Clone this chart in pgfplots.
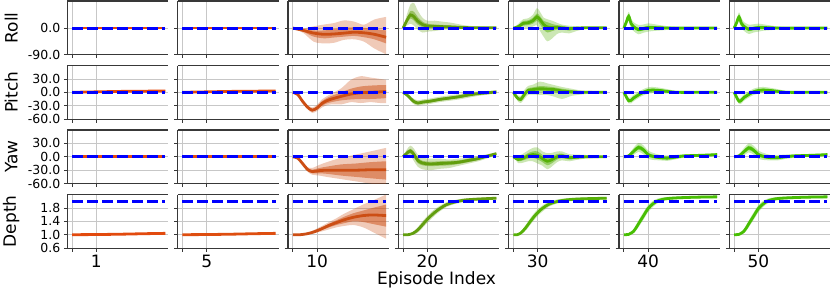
\documentclass[border=0pt]{standalone}
\usepackage{fontspec}
\setmainfont{DejaVu Sans}
\usepackage{pgfplots}
\usepackage{pgfplotstable}
\pgfplotsset{compat=1.18}
\usepgfplotslibrary{fillbetween}

\definecolor{cA}{RGB}{226,74,14}
\definecolor{cB}{RGB}{222,78,16}
\definecolor{cC}{RGB}{204,78,20}
\definecolor{cD}{RGB}{98,158,14}
\definecolor{cE}{RGB}{86,176,8}
\definecolor{cF}{RGB}{72,190,4}

% ---------- flat panels (episodes 1 and 5) ----------
\pgfplotstableread{
t m il ih ol oh
0 0 -0.5 0.5 -1 1
20 0 -0.5 0.5 -1 1
38.5 0 -0.5 0.5 -1 1
}\RollA
\pgfplotstableread{
t m il ih ol oh
0 0 -0.3 0.3 -0.6 0.6
10 1 0.6 1.4 0.3 1.7
20 2 1.6 2.4 1.3 2.7
30 2.5 2.1 2.9 1.8 3.2
38.5 3 2.6 3.4 2.3 3.7
}\PitchA
\pgfplotstableread{
t m il ih ol oh
0 0 -0.3 0.3 -0.6 0.6
20 0 -0.3 0.3 -0.6 0.6
38.5 0 -0.3 0.3 -0.6 0.6
}\YawA
\pgfplotstableread{
t m il ih ol oh
0 1.0 0.998 1.002 0.996 1.004
10 1.005 1.003 1.007 1.001 1.009
20 1.015 1.013 1.017 1.011 1.019
30 1.03 1.028 1.032 1.026 1.034
38.5 1.04 1.038 1.042 1.036 1.044
}\DepthA

% ---------- episode 10 ----------
\pgfplotstableread{
t m il ih ol oh
0 0 0 0 0 0
4.4 -8 -12.7 -3.5 -17 -1
8.6 -17 -29 -8 -46 6
12.8 -21 -34.6 -8 -52 12
16.9 -20 -32 -3.5 -50 17
21.1 -17 -29 1 -40 26
25.3 -14 -26.5 3 -38 22
29.4 -16 -31 1 -46 11.5
33.6 -21 -38 -3.5 -69 29
38.5 -31 -52 -8 -89 38
}\RollC
\pgfplotstableread{
t m il ih ol oh
0 0 0 0 0 0
2 -5 -6 -4 -7 -3
4 -20 -22 -18 -23 -17
6 -33 -35.5 -30.5 -37.5 -28.5
8 -40 -43 -37 -46 -34
10 -35 -38.5 -31.5 -42 -28
12 -25 -30 -20 -34 -16
14 -19 -25 -13 -29 -9
16 -15 -22 -8 -27 -3
20 -9 -18 0 -27 9
24 -4 -16 8 -22 28
28 -1 -15 13 -24 36
32 0 -15 15 -22 33
36 1 -14 16 -24 30
38.5 2 -13 16 -24 28
}\PitchC
\pgfplotstableread{
t m il ih ol oh
0 0 0 0 0 0
2 -3 -4 -2 -5 -1
4 -15 -17 -13 -19 -11
6 -28 -31 -25 -33 -23
8 -33 -37 -29 -40 -25
11 -31 -37 -25 -42 -18
14 -30 -38 -22 -45 -12
20 -30 -42 -17 -50 -2
26 -30 -45 -15 -55 5
32 -29 -48 -12 -60 12
38.5 -29 -51 -10 -65 20
}\YawC
\pgfplotstableread{
t m il ih ol oh
0 1.0 1.0 1.0 1.0 1.0
3 1.0 0.995 1.005 0.99 1.01
6 1.03 1.02 1.04 1.01 1.05
9 1.09 1.07 1.12 1.05 1.15
12 1.18 1.14 1.22 1.10 1.26
15 1.28 1.22 1.33 1.16 1.38
18 1.36 1.29 1.43 1.22 1.49
21 1.44 1.34 1.53 1.26 1.62
25 1.52 1.40 1.64 1.29 1.76
29 1.57 1.38 1.72 1.22 1.90
33 1.59 1.32 1.80 1.08 2.02
38.5 1.57 1.24 1.90 0.88 2.2
}\DepthC

% ---------- episode 20 ----------
\pgfplotstableread{
t m il ih ol oh
0 0 0 0 0 0
1.5 25 18 32 8 45
3 45 33 58 15 80
4.5 38 25 55 8 85
6 24 12 38 -5 60
8 12 3 22 -15 35
10 7 0 15 -12 25
13 6 1 12 -10 25
16 5 0 11 -6 22
20 4 0 8 -5 18
25 2 0 5 -3 10
30 1 -1 3 -2 6
38.5 1 0 2 -1 3
}\RollD
\pgfplotstableread{
t m il ih ol oh
0 0 0 0 0 0
2 -8 -10 -6 -12 -4
4 -19 -22 -16 -25 -13
6 -24 -27 -21 -30 -18
8 -22 -25 -19 -28 -16
11 -20 -23 -17 -26 -14
15 -16 -19 -13 -22 -10
19 -13 -16 -10 -19 -7
23 -10 -13 -7 -16 -4
27 -6 -9 -3 -12 0
31 -3 -5 -1 -8 2
35 -1 -3 1 -5 3
38.5 1 -1 3 -2 4
}\PitchD
\pgfplotstableread{
t m il ih ol oh
0 0 0 0 0 0
1.5 8 4 12 0 16
3 13 8 18 2 25
4.5 5 -1 11 -10 18
6 -8 -14 -2 -22 5
8 -14 -19 -9 -28 -2
11 -16 -21 -11 -30 -4
15 -15 -20 -10 -27 -4
19 -14 -19 -9 -25 -6
23 -12 -16 -8 -20 -4
27 -8 -12 -4 -15 -2
31 -4 -7 -1 -10 2
35 2 0 4 -3 6
38.5 7 5 9 4 10
}\YawD
\pgfplotstableread{
t m il ih ol oh
0 1.0 1.0 1.0 1.0 1.0
2 1.0 0.995 1.005 0.99 1.01
4 1.04 1.02 1.06 1.0 1.08
6 1.14 1.11 1.17 1.06 1.22
8 1.3 1.26 1.34 1.2 1.4
10 1.46 1.42 1.50 1.36 1.56
12 1.6 1.56 1.64 1.5 1.7
14 1.72 1.68 1.76 1.63 1.81
16 1.82 1.78 1.85 1.74 1.9
18 1.9 1.87 1.93 1.83 1.97
21 1.97 1.94 2.0 1.91 2.03
25 2.03 2.0 2.05 1.97 2.08
30 2.06 2.04 2.08 2.01 2.1
38.5 2.09 2.07 2.11 2.05 2.13
}\DepthD

% ---------- episode 30 ----------
\pgfplotstableread{
t m il ih ol oh
0 0 0 0 0 0
2 5 1 9 -3 14
4 16 8 24 2 30
6 18 10 26 0 33
8 25 15 35 5 45
9.7 38 25 50 10 68
11 28 12 40 -10 55
12.5 12 -5 24 -30 35
14 4 -15 20 -45 30
16 2 -10 14 -35 25
18 3 -5 10 -20 18
20 1 -5 8 -15 12
23 -2 -8 4 -18 8
26 0 -4 4 -10 6
30 1 -1 3 -3 4
38.5 1 0 2 -1 3
}\RollE
\pgfplotstableread{
t m il ih ol oh
0 0 0 0 0 0
1.5 -12 -15 -9 -18 -6
3 -16 -20 -12 -24 -8
4.5 -5 -10 0 -15 5
6 4 -1 9 -6 14
8 6 1 11 -5 17
11 8 2 14 -6 24
14 7 1 13 -6 20
17 6 0 11 -10 16
20 3 -3 8 -15 12
24 1 -3 5 -8 8
28 0 -2 2 -5 4
32 0 -1 1 -3 3
38.5 0 -1 1 -2 2
}\PitchE
\pgfplotstableread{
t m il ih ol oh
0 0 0 0 0 0
2 -6 -10 -2 -14 2
4 -3 -8 2 -13 7
6 2 -4 8 -10 14
8 5 -2 12 -10 20
10 3 -6 12 -15 21
12 -4 -12 4 -20 12
14 -10 -19 -1 -28 8
16 -6 -14 2 -21 9
18 0 -6 6 -12 12
20 2 -3 7 -8 12
23 -2 -6 2 -10 6
26 -1 -4 2 -7 5
30 0 -2 2 -4 4
38.5 0 -1 1 -2 2
}\YawE
\pgfplotstableread{
t m il ih ol oh
0 1.0 1.0 1.0 1.0 1.0
1.5 1.0 0.995 1.005 0.99 1.01
3 1.05 1.03 1.07 1.01 1.09
5 1.2 1.16 1.24 1.12 1.28
7 1.4 1.35 1.45 1.3 1.5
9 1.58 1.53 1.63 1.48 1.68
11 1.73 1.68 1.77 1.63 1.82
13 1.84 1.8 1.88 1.75 1.92
15 1.92 1.89 1.95 1.85 1.99
18 1.99 1.96 2.02 1.93 2.05
22 2.04 2.02 2.06 1.99 2.09
28 2.07 2.05 2.09 2.03 2.11
38.5 2.09 2.07 2.11 2.05 2.13
}\DepthE

% ---------- episode 40 ----------
\pgfplotstableread{
t m il ih ol oh
0 0 0 0 0 0
1 20 15 25 10 30
2 40 32 48 25 55
3 15 7 23 -3 33
4 5 -1 11 -10 20
6 -5 -11 1 -21 11
8 -2 -8 4 -16 12
10 2 -4 8 -12 16
12 2 -3 7 -10 14
15 1 -3 5 -8 10
20 0 -2 2 -5 5
30 0 -1 1 -2 2
38.5 0 -1 1 -1 1
}\RollF
\pgfplotstableread{
t m il ih ol oh
0 0 0 0 0 0
1 -10 -12 -8 -14 -6
2 -19 -22 -16 -25 -13
3 -18 -21 -15 -25 -11
4 -13 -16 -10 -20 -6
6 -6 -9 -3 -13 1
8 0 -3 3 -7 7
10 4 1 7 -3 11
12 5 2 8 -2 12
15 4 1 7 -2 10
18 2 0 4 -3 7
22 0 -1 1 -3 3
30 0 -1 1 -2 2
38.5 0 -1 1 -1 1
}\PitchF
\pgfplotstableread{
t m il ih ol oh
0 0 0 0 0 0
2 2 0 4 -2 6
4 12 8 16 4 20
6 21 16 26 11 31
8 16 11 21 6 26
10 5 1 9 -4 14
12 1 -3 5 -7 9
15 -2 -5 1 -8 4
18 -3 -6 0 -9 3
21 -1 -4 2 -6 4
25 2 0 4 -2 6
30 3 1 5 0 6
35 4 2 6 1 7
38.5 5 3 7 2 8
}\YawF
\pgfplotstableread{
t m il ih ol oh
0 1.0 1.0 1.0 1.0 1.0
2 1.01 1.0 1.02 0.99 1.03
4 1.1 1.07 1.13 1.04 1.16
5 1.2 1.16 1.24 1.12 1.28
6 1.32 1.27 1.37 1.22 1.42
8 1.55 1.5 1.6 1.44 1.66
10 1.78 1.73 1.83 1.67 1.88
12 1.92 1.88 1.96 1.83 2.01
14 2.01 1.98 2.04 1.94 2.08
17 2.07 2.05 2.09 2.02 2.12
22 2.1 2.08 2.12 2.06 2.14
30 2.12 2.1 2.14 2.08 2.16
38.5 2.13 2.11 2.15 2.09 2.17
}\DepthF

% ---------- episode 50 ----------
\pgfplotstableread{
t m il ih ol oh
0 0 0 0 0 0
1 18 13 23 8 28
2 38 30 46 23 53
3 16 8 24 -2 34
4 6 0 12 -9 21
6 -4 -10 2 -20 12
8 -1 -7 5 -15 13
10 2 -4 8 -12 15
12 2 -3 7 -9 13
15 1 -2 4 -7 9
20 0 -2 2 -4 4
30 0 -1 1 -2 2
38.5 0 -1 1 -1 1
}\RollG
\pgfplotstableread{
t m il ih ol oh
0 0 0 0 0 0
1 -11 -13 -9 -15 -7
2 -20 -23 -17 -26 -14
3 -18 -21 -15 -25 -11
4 -12 -15 -9 -19 -5
6 -5 -8 -2 -12 2
8 1 -2 4 -6 8
10 4 1 7 -3 11
12 5 2 8 -2 12
15 4 1 7 -2 10
18 2 0 4 -3 7
22 0 -1 1 -3 3
30 0 -1 1 -2 2
38.5 0 -1 1 -1 1
}\PitchG
\pgfplotstableread{
t m il ih ol oh
0 0 0 0 0 0
2 2 0 4 -2 6
4 11 7 15 3 19
6 20 15 25 10 30
8 15 10 20 5 25
10 5 1 9 -4 14
12 1 -3 5 -7 9
15 -2 -5 1 -8 4
18 -2 -5 1 -8 4
21 0 -3 3 -5 5
25 2 0 4 -2 6
30 3 1 5 0 6
35 4 2 6 1 7
38.5 5 3 7 2 8
}\YawG
\pgfplotstableread{
t m il ih ol oh
0 1.0 1.0 1.0 1.0 1.0
2 1.01 1.0 1.02 0.99 1.03
4 1.1 1.07 1.13 1.04 1.16
5 1.2 1.16 1.24 1.12 1.28
6 1.32 1.27 1.37 1.22 1.42
8 1.55 1.5 1.6 1.44 1.66
10 1.78 1.73 1.83 1.67 1.88
12 1.92 1.88 1.96 1.83 2.01
14 2.01 1.98 2.04 1.94 2.08
17 2.07 2.05 2.09 2.02 2.12
22 2.1 2.08 2.12 2.06 2.14
30 2.12 2.1 2.14 2.08 2.16
38.5 2.13 2.11 2.15 2.09 2.17
}\DepthG

\pgfplotsset{
  base/.style={
    scale only axis, width=101pt, height=53.6pt, anchor=north west,
    xmin=-2, xmax=39.7, xtick={0,10}, xticklabels={}, yticklabels={},
    axis x line*=box, axis y line*=left,
    tick align=outside, major tick length=3.5pt,
    xtick pos=left, ytick pos=left,
    axis line style={black!78, line width=1.1pt},
    major tick style={black!78, line width=0.8pt},
    grid=major, grid style={black!22, line width=0.8pt},
    tick label style={font=\fontsize{12.5}{14}\selectfont},
  },
  lastcol/.style={axis y line*=box, ytick pos=left},
  rollR/.style={ymin=-90, ymax=92, ytick={-90,0}},
  pyR/.style={ymin=-60, ymax=60, ytick={-60,-30,0,30}},
  depR/.style={ymin=0.6, ymax=2.2, ytick={0.6,1.0,1.4,1.8}},
  firstcol/.style={ylabel style={font=\fontsize{17}{20}\selectfont, at={(axis description cs:-0.555,0.5)}, anchor=center}},
  bottomrow/.style={xticklabel style={font=\fontsize{17}{20}\selectfont}},
}

\newcommand{\panel}[2]{%
  \addplot[draw=none, smooth, name path=oL] table[x=t,y=ol]{#1};
  \addplot[draw=none, smooth, name path=oH] table[x=t,y=oh]{#1};
  \addplot[fill=#2, fill opacity=0.3, draw=none] fill between[of=oL and oH];
  \addplot[draw=none, smooth, name path=iL] table[x=t,y=il]{#1};
  \addplot[draw=none, smooth, name path=iH] table[x=t,y=ih]{#1};
  \addplot[fill=#2, fill opacity=0.5, draw=none] fill between[of=iL and iH];
  \addplot[#2, line width=2.8pt, smooth] table[x=t,y=m]{#1};
}
\newcommand{\target}[1]{%
  \addplot[blue, line width=3pt, dash pattern=on 10.5pt off 4.5pt] coordinates {(0,#1) (38.5,#1)};
}
% #1 x, #2 top, #3 options, #4 table, #5 colour, #6 target
\newcommand{\cell}[6]{%
  \begin{axis}[base, at={(#1pt,-#2pt)}, #3]
    \panel{#4}{#5}
    \target{#6}
  \end{axis}}

\begin{document}
\begin{tikzpicture}
% Row 1: Roll
\cell{67.3}{1}{rollR, firstcol, ylabel={Roll}, yticklabels={-90.0,0.0}}{\RollA}{cA}{0}
\cell{177.6}{1}{rollR}{\RollA}{cB}{0}
\cell{288.0}{1}{rollR}{\RollC}{cC}{0}
\cell{398.3}{1}{rollR}{\RollD}{cD}{0}
\cell{508.6}{1}{rollR}{\RollE}{cE}{0}
\cell{619.0}{1}{rollR}{\RollF}{cF}{0}
\cell{729.3}{1}{rollR, lastcol}{\RollG}{cF}{0}
% Row 2: Pitch
\cell{67.3}{65.5}{pyR, firstcol, ylabel={Pitch}, yticklabels={-60.0,-30.0,0.0,30.0}}{\PitchA}{cA}{0}
\cell{177.6}{65.5}{pyR}{\PitchA}{cB}{0}
\cell{288.0}{65.5}{pyR}{\PitchC}{cC}{0}
\cell{398.3}{65.5}{pyR}{\PitchD}{cD}{0}
\cell{508.6}{65.5}{pyR}{\PitchE}{cE}{0}
\cell{619.0}{65.5}{pyR}{\PitchF}{cF}{0}
\cell{729.3}{65.5}{pyR, lastcol}{\PitchG}{cF}{0}
% Row 3: Yaw
\cell{67.3}{130}{pyR, firstcol, ylabel={Yaw}, yticklabels={-60.0,-30.0,0.0,30.0}}{\YawA}{cA}{0}
\cell{177.6}{130}{pyR}{\YawA}{cB}{0}
\cell{288.0}{130}{pyR}{\YawC}{cC}{0}
\cell{398.3}{130}{pyR}{\YawD}{cD}{0}
\cell{508.6}{130}{pyR}{\YawE}{cE}{0}
\cell{619.0}{130}{pyR}{\YawF}{cF}{0}
\cell{729.3}{130}{pyR, lastcol}{\YawG}{cF}{0}
% Row 4: Depth
\cell{67.3}{194.5}{depR, firstcol, bottomrow, ylabel={Depth}, yticklabels={0.6,1.0,1.4,1.8}, xticklabels={,1}}{\DepthA}{cA}{2}
\cell{177.6}{194.5}{depR, bottomrow, xticklabels={,5}}{\DepthA}{cB}{2}
\cell{288.0}{194.5}{depR, bottomrow, xticklabels={,10}}{\DepthC}{cC}{2}
\cell{398.3}{194.5}{depR, bottomrow, xticklabels={,20}}{\DepthD}{cD}{2}
\cell{508.6}{194.5}{depR, bottomrow, xticklabels={,30}}{\DepthE}{cE}{2}
\cell{619.0}{194.5}{depR, bottomrow, xticklabels={,40}}{\DepthF}{cF}{2}
\cell{729.3}{194.5}{depR, bottomrow, lastcol, xticklabels={,50}}{\DepthG}{cF}{2}
\node[anchor=base, font=\fontsize{17}{20}\selectfont] at (436.5pt,-284pt) {Episode Index};
\pgfresetboundingbox
\useasboundingbox (0pt,0pt) rectangle (830pt,-289pt);
\end{tikzpicture}
\end{document}
